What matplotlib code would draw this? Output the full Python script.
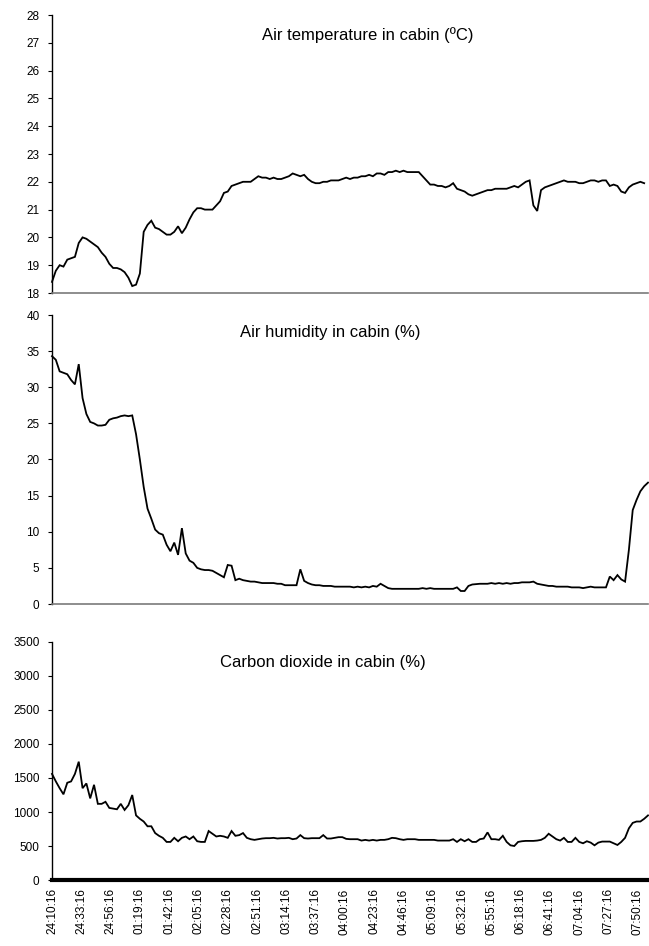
import numpy as np
import matplotlib
matplotlib.use("Agg")
import matplotlib.pyplot as plt

plt.rcParams['font.family'] = ['Liberation Sans', 'DejaVu Sans']

STEP_MIN = 3  # sampling interval of the read-off series (minutes)

temperature = [
    18.4, 18.8, 19.0, 18.95, 19.2, 19.25, 19.3, 19.8, 20.0, 19.95,
    19.85, 19.75, 19.65, 19.45, 19.3, 19.05, 18.9, 18.9, 18.85, 18.75,
    18.55, 18.25, 18.3, 18.7, 20.2, 20.45, 20.6, 20.35, 20.3, 20.2,
    20.1, 20.1, 20.2, 20.4, 20.15, 20.35, 20.65, 20.9, 21.05, 21.05,
    21.0, 21.0, 21.0, 21.15, 21.3, 21.6, 21.65, 21.85, 21.9, 21.95,
    22.0, 22.0, 22.0, 22.1, 22.2, 22.15, 22.15, 22.1, 22.15, 22.1,
    22.1, 22.15, 22.2, 22.3, 22.25, 22.2, 22.25, 22.1, 22.0, 21.95,
    21.95, 22.0, 22.0, 22.05, 22.05, 22.05, 22.1, 22.15, 22.1, 22.15,
    22.15, 22.2, 22.2, 22.25, 22.2, 22.3, 22.3, 22.25, 22.35, 22.35,
    22.4, 22.35, 22.4, 22.35, 22.35, 22.35, 22.35, 22.2, 22.05, 21.9,
    21.9, 21.85, 21.85, 21.8, 21.85, 21.95, 21.75, 21.7, 21.65, 21.55,
    21.5, 21.55, 21.6, 21.65, 21.7, 21.7, 21.75, 21.75, 21.75, 21.75,
    21.8, 21.85, 21.8, 21.9, 22.0, 22.05, 21.15, 20.95, 21.7, 21.8,
    21.85, 21.9, 21.95, 22.0, 22.05, 22.0, 22.0, 22.0, 21.95, 21.95,
    22.0, 22.05, 22.05, 22.0, 22.05, 22.05, 21.85, 21.9, 21.85, 21.65,
    21.6, 21.8, 21.9, 21.95, 22.0, 21.95,
]

humidity = [
    34.3, 33.8, 32.2, 32.0, 31.8, 31.0, 30.4, 33.2, 28.5, 26.3,
    25.2, 25.0, 24.7, 24.7, 24.8, 25.5, 25.7, 25.8, 26.0, 26.1,
    26.0, 26.1, 23.5, 20.0, 16.2, 13.2, 11.8, 10.3, 9.8, 9.6,
    8.2, 7.3, 8.5, 6.8, 10.5, 7.0, 6.0, 5.7, 5.0, 4.8,
    4.7, 4.7, 4.6, 4.3, 4.0, 3.7, 5.4, 5.3, 3.3, 3.5,
    3.3, 3.2, 3.1, 3.1, 3.0, 2.9, 2.9, 2.9, 2.9, 2.8,
    2.8, 2.6, 2.6, 2.6, 2.6, 4.8, 3.2, 2.9, 2.7, 2.6,
    2.6, 2.5, 2.5, 2.5, 2.4, 2.4, 2.4, 2.4, 2.4, 2.3,
    2.4, 2.3, 2.4, 2.3, 2.5, 2.4, 2.8, 2.5, 2.2, 2.1,
    2.1, 2.1, 2.1, 2.1, 2.1, 2.1, 2.1, 2.2, 2.1, 2.2,
    2.1, 2.1, 2.1, 2.1, 2.1, 2.1, 2.3, 1.8, 1.8, 2.5,
    2.7, 2.75, 2.8, 2.8, 2.8, 2.9, 2.8, 2.9, 2.8, 2.9,
    2.8, 2.9, 2.9, 3.0, 3.0, 3.0, 3.1, 2.8, 2.7, 2.6,
    2.5, 2.5, 2.4, 2.4, 2.4, 2.4, 2.3, 2.3, 2.3, 2.2,
    2.3, 2.4, 2.3, 2.3, 2.3, 2.3, 3.8, 3.3, 4.0, 3.4,
    3.1, 7.5, 13.0, 14.4, 15.6, 16.3, 16.8,
]

co2 = [
    1560, 1450, 1350, 1260, 1430, 1450, 1560, 1740, 1350, 1420,
    1200, 1400, 1120, 1120, 1150, 1060, 1050, 1040, 1120, 1030,
    1100, 1250, 950, 900, 860, 790, 790, 690, 650, 620,
    560, 560, 620, 570, 620, 640, 600, 640, 570, 560,
    560, 720, 680, 640, 650, 640, 620, 720, 650, 660,
    690, 620, 600, 590, 600, 610, 615, 615, 620, 610,
    615, 615, 620, 600, 610, 660, 615, 610, 615, 615,
    615, 660, 610, 610, 620, 630, 630, 605, 600, 600,
    600, 580, 590, 580, 590, 580, 590, 590, 600, 620,
    615, 600, 590, 600, 600, 600, 590, 590, 590, 590,
    590, 580, 580, 580, 580, 600, 560, 600, 570, 600,
    560, 560, 600, 610, 700, 600, 600, 590, 650, 560,
    510, 500, 560, 570, 575, 575, 575, 580, 590, 620,
    680, 640, 600, 580, 620, 560, 560, 620, 560, 540,
    570, 550, 510, 550, 565, 565, 565, 540, 515, 560,
    620, 760, 840, 860, 860, 900, 950,
]

tick_minutes = [0, 23, 46, 69, 92, 115, 138, 161, 184, 207, 230,
                253, 276, 299, 322, 345, 368, 391, 414, 437, 460]
tick_labels = ["24:10:16", "24:33:16", "24:56:16", "01:19:16", "01:42:16",
               "02:05:16", "02:28:16", "02:51:16", "03:14:16", "03:37:16",
               "04:00:16", "04:23:16", "04:46:16", "05:09:16", "05:32:16",
               "05:55:16", "06:18:16", "06:41:16", "07:04:16", "07:27:16",
               "07:50:16"]

titles = ["Air temperature in cabin (ºC)",
          "Air humidity in cabin (%)",
          "Carbon dioxide in cabin (%)"]

W, H = 649, 946
fig = plt.figure(figsize=(W / 100, H / 100), dpi=100)

left = 52 / W
width = 596 / W
ax1 = fig.add_axes([left, 1 - 293 / H, width, 278 / H])
ax2 = fig.add_axes([left, 1 - 604 / H, width, 289 / H])
ax3 = fig.add_axes([left, 1 - 880 / H, width, 238 / H])

XMAX = 468
series = [temperature, humidity, co2]
ylims = [(18, 28), (0, 40), (0, 3500)]
yticks = [np.arange(18, 29, 1), np.arange(0, 41, 5), np.arange(0, 3501, 500)]

for ax, vals, yl, yt in zip([ax1, ax2, ax3], series, ylims, yticks):
    t = np.arange(len(vals)) * STEP_MIN
    ax.plot(t, vals, color='black', lw=1.3, solid_joinstyle='miter',
            clip_on=False)
    ax.set_xlim(0, XMAX)
    ax.set_ylim(*yl)
    ax.set_yticks(yt)
    ax.spines['top'].set_visible(False)
    ax.spines['right'].set_visible(False)
    ax.spines['left'].set_color('black')
    ax.spines['left'].set_linewidth(1.0)
    ax.tick_params(axis='y', direction='out', length=3, width=0.8,
                   labelsize=8.5, pad=6, colors='black')

for ax in (ax1, ax2):
    ax.spines['bottom'].set_color('#7a7a7a')
    ax.spines['bottom'].set_linewidth(1.2)
    ax.set_xticks([])

ax3.spines['bottom'].set_color('black')
ax3.spines['bottom'].set_linewidth(3.0)
ax3.set_xticks(tick_minutes)
ax3.set_xticklabels(tick_labels, rotation=90, fontsize=8.5)
ax3.tick_params(axis='x', length=0, pad=6)

fig.text(368 / W, 1 - 35 / H, titles[0], ha='center', va='center', fontsize=12)
fig.text(330 / W, 1 - 333 / H, titles[1], ha='center', va='center', fontsize=12)
fig.text(323 / W, 1 - 662 / H, titles[2], ha='center', va='center', fontsize=12)

fig.savefig("out.png", dpi=100)
